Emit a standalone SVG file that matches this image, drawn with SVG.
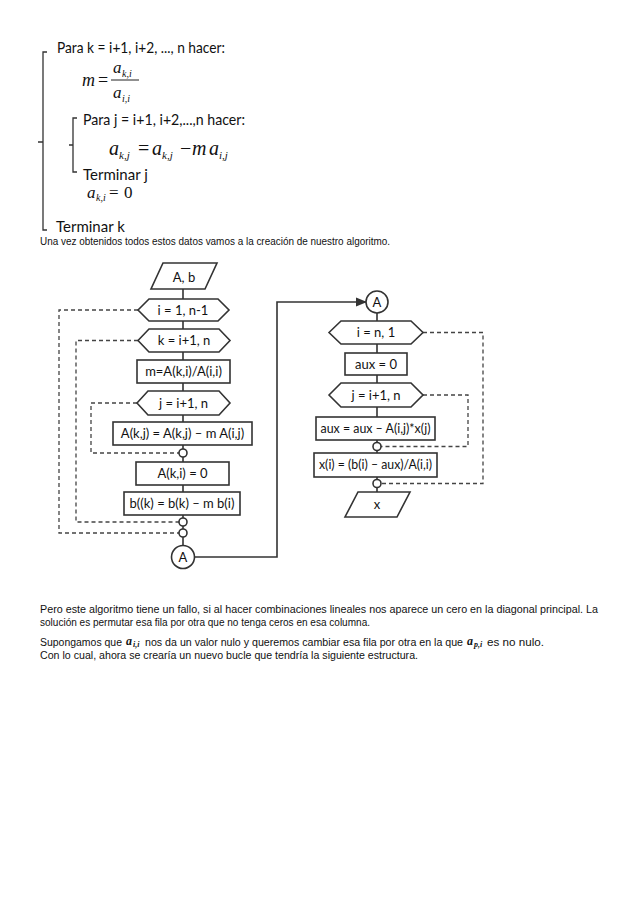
<svg xmlns="http://www.w3.org/2000/svg" width="638" height="903" viewBox="0 0 638 903">
<style>
.bg{fill:#fff}
.code{font-family:Lato,"Liberation Sans",sans-serif;font-size:15px;fill:#111}
.math{font-family:"Liberation Serif",serif;font-style:italic;fill:#111}
.mathn{font-family:"Liberation Serif",serif;fill:#111}
.brk{stroke:#333;stroke-width:1.3;fill:none}
.body{font-family:"Liberation Sans",Arial,sans-serif;font-size:10px;fill:#111}
.node{fill:#fff;stroke:#333;stroke-width:1.6}
.lbl{font-family:Lato,"Liberation Sans",sans-serif;font-size:13px;fill:#111;text-anchor:middle}
.flow{stroke:#333;stroke-width:1.6;fill:none}
.loop{stroke:#444;stroke-width:1.3;fill:none;stroke-dasharray:4 3}
.inl{font-family:"Liberation Serif",serif;font-style:italic;font-weight:bold;fill:#111}
</style>
<defs>
<marker id="arr" viewBox="0 0 10 10" refX="9" refY="5" markerWidth="7" markerHeight="7" orient="auto">
<path d="M0,1 L10,5 L0,9 z" fill="#333"/>
</marker>
</defs>
<rect class="bg" width="638" height="903"/>

<g id="pseudocode">
<path class="brk" d="M47,52 H43 V230 H47 M43,142 H38"/>
<text class="code" x="57" y="53" textLength="168" lengthAdjust="spacingAndGlyphs">Para k = i+1, i+2, ..., n hacer:</text>
<text class="math" x="82" y="86" font-size="18">m</text>
<text class="mathn" x="98" y="86" font-size="18">=</text>
<text class="math" x="113" y="73" font-size="17">a</text>
<text class="math" x="122" y="77" font-size="10">k,i</text>
<line x1="111" y1="80" x2="139" y2="80" stroke="#222" stroke-width="1"/>
<text class="math" x="113" y="98" font-size="17">a</text>
<text class="math" x="122" y="102" font-size="10">i,i</text>
<path class="brk" d="M77,118 H73 V172 H77 M73,145 H69"/>
<text class="code" x="83" y="125" textLength="162" lengthAdjust="spacingAndGlyphs">Para  j = i+1, i+2,...,n hacer:</text>
<text class="math" x="109" y="155" font-size="20">a</text>
<text class="math" x="119" y="159" font-size="11">k,j</text>
<text class="mathn" x="138" y="155" font-size="20">=</text>
<text class="math" x="152" y="155" font-size="20">a</text>
<text class="math" x="162" y="159" font-size="11">k,j</text>
<text class="mathn" x="180" y="155" font-size="20">−</text>
<text class="math" x="192" y="155" font-size="20">m</text>
<text class="math" x="209" y="155" font-size="20">a</text>
<text class="math" x="219" y="159" font-size="11">i,j</text>
<text class="code" x="83" y="180" font-size="14">Terminar j</text>
<text class="math" x="87" y="198" font-size="17">a</text>
<text class="math" x="96" y="201" font-size="10">k,i</text>
<text class="mathn" x="109" y="198" font-size="17">=</text>
<text class="mathn" x="124" y="198" font-size="17">0</text>
<text class="code" x="56" y="232" font-size="14">Terminar k</text>
</g>

<text class="body" x="40" y="245" textLength="350" lengthAdjust="spacingAndGlyphs">Una vez obtenidos todos estos datos vamos a la creación de nuestro algoritmo.</text>

<g id="connectors">
<line class="flow" x1="183" y1="289" x2="183" y2="546"/>
<path class="flow" d="M194.5,557 H277 V302 H366" marker-end="url(#arr)"/>
<line class="flow" x1="377" y1="313" x2="377" y2="492"/>
<path class="loop" d="M138,310 H59 V533 H179"/>
<path class="loop" d="M138,340.5 H76 V522 H179"/>
<path class="loop" d="M137,403 H91 V453 H179"/>
<path class="loop" d="M423,332.5 H483 V483.5 H381"/>
<path class="loop" d="M423,395 H468 V446.5 H381"/>
</g>

<g id="in_Ab">
<polygon class="node" points="163,263 217,263 205,289 151,289"/>
<text class="lbl" x="184" y="281.5" font-size="15">A, b</text>
</g>
<g id="loop_i">
<polygon class="node" points="138,310 149,299 218,299 229,310 218,321 149,321"/>
<text class="lbl" x="183" y="314.5">i = 1, n-1</text>
</g>
<g id="loop_k">
<polygon class="node" points="138,340.5 149,329 219,329 230,340.5 219,352 149,352"/>
<text class="lbl" x="184" y="345">k = i+1, n</text>
</g>
<g id="calc_m">
<rect class="node" x="137" y="360" width="93" height="23"/>
<text class="lbl" x="183.5" y="376">m=A(k,i)/A(i,i)</text>
</g>
<g id="loop_j">
<polygon class="node" points="137,403 148,391 219,391 230,403 219,415 148,415"/>
<text class="lbl" x="183.5" y="407.5">j = i+1, n</text>
</g>
<g id="upd_A">
<rect class="node" x="113" y="422" width="139" height="23"/>
<text class="lbl" x="182.5" y="438">A(k,j) = A(k,j) – m A(i,j)</text>
</g>
<g id="end_j">
<circle class="node" cx="183" cy="453" r="4"/>
</g>
<g id="zero_A">
<rect class="node" x="136" y="462" width="93" height="23"/>
<text class="lbl" x="182.5" y="478">A(k,i) = 0</text>
</g>
<g id="upd_b">
<rect class="node" x="124" y="492" width="116" height="23"/>
<text class="lbl" x="182" y="508">b((k) = b(k) – m b(i)</text>
</g>
<g id="end_k">
<circle class="node" cx="183" cy="522" r="4"/>
</g>
<g id="end_i">
<circle class="node" cx="183" cy="533" r="4"/>
</g>
<g id="conn_A1">
<circle class="node" cx="183" cy="557" r="11.5"/>
<text class="lbl" x="183" y="561.5">A</text>
</g>

<g id="conn_A2">
<circle class="node" cx="377" cy="302" r="11"/>
<text class="lbl" x="377" y="306.5">A</text>
</g>
<g id="loop_i2">
<polygon class="node" points="329,332.5 341,321 411,321 423,332.5 411,344 341,344"/>
<text class="lbl" x="376" y="337">i = n, 1</text>
</g>
<g id="aux0">
<rect class="node" x="345" y="353" width="62" height="22"/>
<text class="lbl" x="376" y="368.5">aux = 0</text>
</g>
<g id="loop_j2">
<polygon class="node" points="329,395 341,383 411,383 423,395 411,407 341,407"/>
<text class="lbl" x="376" y="399.5">j = i+1, n</text>
</g>
<g id="upd_aux">
<rect class="node" x="316" y="417" width="119" height="23"/>
<text class="lbl" x="375.5" y="433" textLength="110" lengthAdjust="spacingAndGlyphs">aux = aux – A(i,j)*x(j)</text>
</g>
<g id="end_j2">
<circle class="node" cx="377" cy="446.5" r="4"/>
</g>
<g id="calc_x">
<rect class="node" x="314" y="453" width="123" height="24"/>
<text class="lbl" x="375.5" y="469" textLength="113" lengthAdjust="spacingAndGlyphs">x(i) = (b(i) – aux)/A(i,i)</text>
</g>
<g id="end_i2">
<circle class="node" cx="377" cy="483.5" r="4"/>
</g>
<g id="out_x">
<polygon class="node" points="358,492 410,492 397,517 345,517"/>
<text class="lbl" x="377" y="509">x</text>
</g>

<g id="text_bottom">
<text class="body" x="40" y="613" textLength="558" lengthAdjust="spacingAndGlyphs">Pero este algoritmo tiene un fallo, si al hacer combinaciones lineales nos aparece un cero en la diagonal principal. La</text>
<text class="body" x="40" y="626" textLength="330" lengthAdjust="spacingAndGlyphs">solución es permutar esa fila por otra que no tenga ceros en esa columna.</text>
<text class="body" x="40" y="646" textLength="82" lengthAdjust="spacingAndGlyphs">Supongamos que</text>
<text class="inl" x="126" y="645" font-size="12">a</text>
<text class="inl" x="133" y="647" font-size="8">i,i</text>
<text class="body" x="145" y="646" textLength="318" lengthAdjust="spacingAndGlyphs">nos da un valor nulo y queremos cambiar esa fila por otra en la que</text>
<text class="inl" x="467" y="645" font-size="12">a</text>
<text class="inl" x="474" y="647" font-size="8">p,i</text>
<text class="body" x="487" y="646" textLength="57" lengthAdjust="spacingAndGlyphs">es no nulo.</text>
<text class="body" x="40" y="659" textLength="378" lengthAdjust="spacingAndGlyphs">Con lo cual, ahora se crearía un nuevo bucle que tendría la siguiente estructura.</text>
</g>
</svg>
